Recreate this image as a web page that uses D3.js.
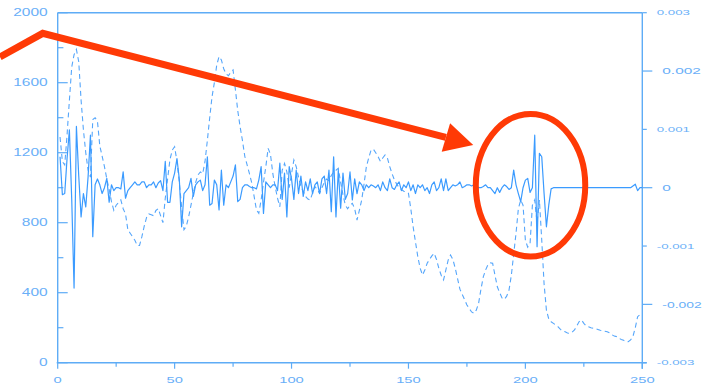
<!DOCTYPE html>
<html>
<head>
<meta charset="utf-8">
<script src="https://cdn.jsdelivr.net/npm/d3@7"></script>
<style>
html,body{margin:0;padding:0;background:#fff;overflow:hidden;}
svg{display:block;}
</style>
</head>
<body>
<svg id="chart" width="703" height="389"></svg>
<script>
// ---------- data ----------
const xTickValues = [0, 50, 100, 150, 200, 250];
const xMinorTicks = [25, 75, 125, 175, 225];
const leftTickValues = [0, 400, 800, 1200, 1600, 2000];
const leftMinorTicks = [200, 600, 1000, 1400, 1800];
const rightMajorTicks = [0.002, 0, -0.002];
const rightMajorLabels = ["0.002", "0", "-0.002"];
const rightMinorTicks = [0.003, 0.001, -0.001, -0.003];
const rightMinorLabels = ["0.003", "0.001", "-0.001", "-0.003"];

const seriesStart = 1; // first x value of both series (step 1)

// solid series, right axis, in units of 0.001
const solidMilli = [
  0.53,-0.12,-0.1,0.5,0.99,-0.2,-1.72,1.05,0.2,-0.5,
  -0.1,-0.33,0.19,0.9,-0.84,0.05,0.15,0.05,-0.1,0.0,
  0.16,-0.25,0.05,-0.05,0.0,0.0,-0.02,0.27,-0.18,-0.05,
  0.0,0.05,0.1,0.05,0.05,0.1,0.1,0.0,0.05,0.05,
  0.1,0.0,0.08,0.12,-0.05,0.45,-0.25,-0.25,0.1,0.25,
  0.5,0.15,-0.67,-0.1,-0.05,0.0,0.16,-0.15,0.05,0.1,
  0.13,-0.05,0.05,0.53,-0.3,-0.27,0.13,0.05,-0.38,0.3,
  -0.3,0.05,0.0,0.1,0.2,0.39,-0.24,-0.2,0.0,0.05,
  0.05,0.02,0.0,0.0,-0.02,0.13,0.36,-0.44,0.1,0.05,
  0.0,0.05,0.05,-0.05,0.42,-0.2,0.25,-0.5,0.36,0.15,
  -0.2,0.3,-0.1,0.2,-0.15,0.1,-0.05,0.15,-0.1,0.05,
  0.1,-0.1,0.15,0.2,-0.1,0.3,-0.41,0.53,-0.5,0.3,
  -0.35,0.25,-0.2,-0.1,0.27,-0.21,0.15,-0.1,0.1,0.05,
  -0.05,0.05,0.0,0.05,0.03,0.0,0.05,-0.05,0.1,0.0,
  -0.05,0.15,0.0,-0.03,0.05,0.1,-0.05,0.05,0.0,0.1,
  -0.05,0.05,-0.1,0.05,0.0,0.05,-0.05,0.0,-0.1,0.05,
  0.1,-0.05,0.0,0.15,-0.05,0.15,-0.05,0.0,0.05,0.03,
  0.05,0.1,0.0,0.02,0.05,0.05,0.03,0.05,0.03,0.0,
  0.0,0.02,0.05,0.0,0.0,-0.05,-0.1,0.0,-0.08,0.0,
  0.05,0.02,-0.03,0.0,0.3,0.05,-0.1,-0.24,0.0,0.13,
  0.16,-0.08,0.0,0.9,-1.01,0.59,0.53,-0.1,-0.67,-0.3,
  -0.02,0,0,0,0,0,0,0,0,0,
  0,0,0,0,0,0,0,0,0,0,
  0,0,0,0,0,0,0,0,0,0,
  0,0,0,0,0,0.03,0.06,-0.05,0,0
];

// dashed series, left axis
const dashedValues = [
  1290,1150,1130,1300,1500,1690,1760,1790,1720,1500,
  1330,1200,1100,1060,1390,1400,1380,1240,1180,1120,
  1050,990,920,870,900,915,930,880,850,760,
  740,720,700,670,670,720,780,830,850,845,
  840,870,880,840,800,940,1050,1160,1215,1234,
  1150,1030,890,760,780,834,900,968,1030,1073,
  1090,1080,1150,1270,1400,1520,1600,1700,1749,1730,
  1680,1650,1640,1660,1673,1560,1440,1349,1270,1180,
  1130,1080,1027,950,873,854,930,1030,1120,1225,
  1190,1080,1006,940,891,1100,1139,1090,1000,1080,
  1158,1120,1060,1006,980,950,935,930,970,1006,
  990,968,1000,1030,1050,1040,1070,1090,1100,1111,
  1030,960,900,880,900,911,880,815,870,930,
  1020,1120,1170,1215,1220,1200,1177,1150,1170,1187,
  1170,1120,1080,1044,1020,1000,990,980,975,968,
  880,777,690,606,540,501,530,568,590,610,
  625,590,539,500,473,530,587,615,590,540,
  480,420,390,360,330,310,290,282,300,340,
  420,490,530,560,570,568,500,434,400,370,
  362,380,415,500,620,740,880,930,900,700,
  660,680,900,930,800,930,700,450,300,250,
  234,225,215,205,190,180,177,170,168,175,
  187,210,235,244,225,210,206,200,197,195,
  190,185,182,180,177,170,160,152,149,140,
  133,128,122,120,130,150,200,263,275,284
];

// annotation (in data coordinates: x, left-axis value)
const arrowPath = [[-24.7, 1747], [-6.4, 1882], [166, 1288]];
const arrowHead = [[164.2, 1206], [167.8, 1368], [177.7, 1244]];
const ellipseCenter = [202.2, 1014];
const ellipseRadii = [23.4, 407];

// ---------- drawing ----------
const svg = d3.select("#chart");
const x = d3.scaleLinear().domain([0, 250]).range([57.7, 642.3]);
const yL = d3.scaleLinear().domain([0, 2000]).range([362.7, 12.7]);
const yR = d3.scaleLinear().domain([-0.003, 0.003]).range([362.7, 12.7]);

const AXIS = "#5eacf6";
const LABEL = "#6aaff8";
const SOLID = "#3b9bff";
const DASH = "#55a6fb";
const RED = "#ff3a06";
const FONT = "'Liberation Sans', Arial, sans-serif";

const axisG = svg.append("g");
axisG.append("line").attr("x1", x(0)).attr("x2", x(250)).attr("y1", yL(2000)).attr("y2", yL(2000))
  .attr("stroke", AXIS).attr("stroke-width", 1.4);
axisG.append("line").attr("x1", x(0) - 1).attr("x2", x(250) + 4.4).attr("y1", yL(0)).attr("y2", yL(0))
  .attr("stroke", AXIS).attr("stroke-width", 1.6);
axisG.append("line").attr("x1", x(0)).attr("x2", x(0)).attr("y1", yL(2000)).attr("y2", yL(0))
  .attr("stroke", AXIS).attr("stroke-width", 1.4);
axisG.append("line").attr("x1", x(250)).attr("x2", x(250)).attr("y1", yL(2000)).attr("y2", yL(0) + 6)
  .attr("stroke", AXIS).attr("stroke-width", 1.4);

axisG.selectAll(".lt").data(leftTickValues).join("line")
  .attr("x1", x(0)).attr("x2", x(0) + 10).attr("y1", d => yL(d)).attr("y2", d => yL(d))
  .attr("stroke", AXIS).attr("stroke-width", 1.2);
axisG.selectAll(".lm").data(leftMinorTicks).join("line")
  .attr("x1", x(0)).attr("x2", x(0) + 5.7).attr("y1", d => yL(d)).attr("y2", d => yL(d))
  .attr("stroke", AXIS).attr("stroke-width", 1.2);
axisG.selectAll(".bt").data(xTickValues).join("line")
  .attr("x1", d => x(d)).attr("x2", d => x(d)).attr("y1", yL(0)).attr("y2", yL(0) + 6)
  .attr("stroke", AXIS).attr("stroke-width", 1.2);
axisG.selectAll(".bm").data(xMinorTicks).join("line")
  .attr("x1", d => x(d)).attr("x2", d => x(d)).attr("y1", yL(0)).attr("y2", yL(0) + 4)
  .attr("stroke", AXIS).attr("stroke-width", 1.2);
axisG.selectAll(".rt").data(rightMajorTicks).join("line")
  .attr("x1", x(250)).attr("x2", x(250) + 10).attr("y1", d => yR(d)).attr("y2", d => yR(d))
  .attr("stroke", AXIS).attr("stroke-width", 1.2);
axisG.selectAll(".rm").data(rightMinorTicks).join("line")
  .attr("x1", x(250)).attr("x2", x(250) + 4.5).attr("y1", d => yR(d)).attr("y2", d => yR(d))
  .attr("stroke", AXIS).attr("stroke-width", 1.2);

function label(g, px, py, txt, size, sx, anchor) {
  g.append("g").attr("transform", `translate(${px},${py}) scale(${sx},1)`)
    .append("text").attr("x", 0).attr("y", 0).attr("dy", "0.36em")
    .attr("text-anchor", anchor).attr("font-family", FONT).attr("font-size", size)
    .attr("fill", LABEL).text(txt);
}
const labG = svg.append("g");
leftTickValues.forEach(v => label(labG, 47.7, yL(v), String(v), 10, 1.55, "end"));
xTickValues.forEach(v => label(labG, x(v), 380, String(v), 9.5, 1.55, "middle"));
rightMajorTicks.forEach((v, i) => {
  const txt = rightMajorLabels[i];
  // keep the widest label inside the page
  label(labG, 662.3, yR(v), txt, 8.8, txt.length > 5 ? 1.58 : 1.75, "start");
});
rightMinorTicks.forEach((v, i) => label(labG, 656.7, yR(v), rightMinorLabels[i], 7.6, 1.75, "start"));

const dashedData = dashedValues.map((v, i) => [seriesStart + i, v]);
const solidData = solidMilli.map((v, i) => [seriesStart + i, v * 1e-3]);

svg.append("path").datum(dashedData)
  .attr("d", d3.line().x(d => x(d[0])).y(d => yL(d[1])))
  .attr("fill", "none").attr("stroke", DASH).attr("stroke-width", 1.1)
  .attr("stroke-dasharray", "5,3.5");

svg.append("path").datum(solidData)
  .attr("d", d3.line().x(d => x(d[0])).y(d => yR(d[1])))
  .attr("fill", "none").attr("stroke", SOLID).attr("stroke-width", 1.2)
  .attr("stroke-linejoin", "round");

const annLine = d3.line().x(d => x(d[0])).y(d => yL(d[1]));
svg.append("path").datum(arrowPath)
  .attr("d", annLine)
  .attr("fill", "none").attr("stroke", RED).attr("stroke-width", 7).attr("stroke-linejoin", "miter");
svg.append("path").datum(arrowHead)
  .attr("d", d => annLine(d) + "Z")
  .attr("fill", RED).attr("stroke", "none");
svg.append("ellipse")
  .attr("cx", x(ellipseCenter[0])).attr("cy", yL(ellipseCenter[1]))
  .attr("rx", x(ellipseCenter[0] + ellipseRadii[0]) - x(ellipseCenter[0]))
  .attr("ry", yL(ellipseCenter[1]) - yL(ellipseCenter[1] + ellipseRadii[1]))
  .attr("fill", "none").attr("stroke", RED).attr("stroke-width", 6);
</script>
</body>
</html>
